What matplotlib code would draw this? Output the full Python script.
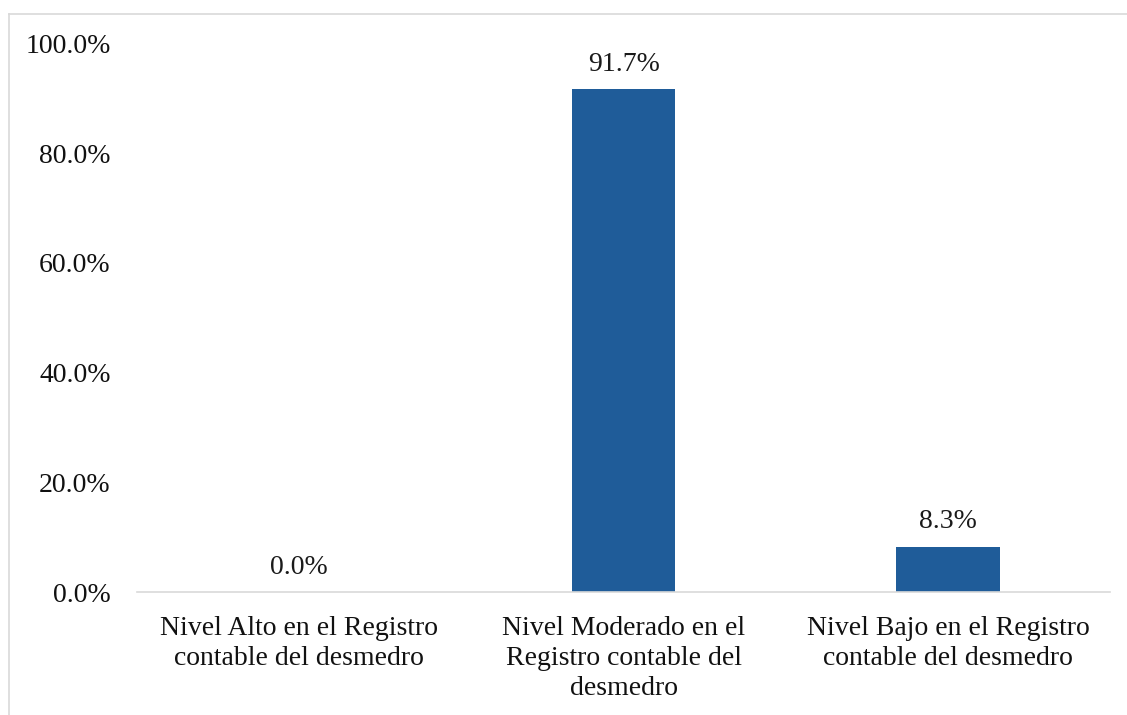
import matplotlib as mpl
from matplotlib import pyplot as plt
from matplotlib.lines import Line2D
from matplotlib.ticker import PercentFormatter

categories = [
    "Nivel Alto en el Registro\ncontable del desmedro",
    "Nivel Moderado en el\nRegistro contable del\ndesmedro",
    "Nivel Bajo en el Registro\ncontable del desmedro",
]
values = [0.0, 91.7, 8.3]
y_ticks = [0, 20, 40, 60, 80, 100]

mpl.rcParams.update({
    "font.family": ["Liberation Serif", "DejaVu Serif"],
    "font.size": 20,
})

fig = plt.figure(figsize=(11.27, 7.15), dpi=100)
ax = fig.add_axes([0.1216, 0.172, 0.8634, 0.767])

x = range(len(categories))
bars = ax.bar(x, values, width=0.32, color="#1F5C99", zorder=2)

for bar, v in zip(bars, values):
    ax.annotate(f"{v:.1f}%", (bar.get_x() + bar.get_width() / 2, v),
                xytext=(0, 9), textcoords="offset points",
                ha="center", va="bottom", fontsize=20, color="#1a1a1a")

ax.set_xlim(-0.5, len(categories) - 0.5)
ax.set_ylim(0, 100)
ax.set_yticks(y_ticks)
ax.yaxis.set_major_formatter(PercentFormatter(decimals=1))
ax.set_xticks(list(x))
ax.set_xticklabels(categories, fontsize=20, linespacing=1.28)

for side in ("top", "right", "left"):
    ax.spines[side].set_visible(False)
ax.spines["bottom"].set_color("#D9D9D9")
ax.spines["bottom"].set_linewidth(1.2)
ax.tick_params(axis="both", length=0, colors="#111111")
ax.tick_params(axis="x", pad=17)
ax.tick_params(axis="y", pad=19)

# thin frame around the chart area (top and left edges visible)
fx0, fy1 = 9 / 1127, 1 - 14 / 715
fig.add_artist(Line2D([fx0, 1.0], [fy1, fy1], transform=fig.transFigure,
                      color="#D9D9D9", linewidth=1.2))
fig.add_artist(Line2D([fx0, fx0], [0.0, fy1], transform=fig.transFigure,
                      color="#D9D9D9", linewidth=1.2))

fig.savefig("out.png", dpi=100, facecolor="white")
